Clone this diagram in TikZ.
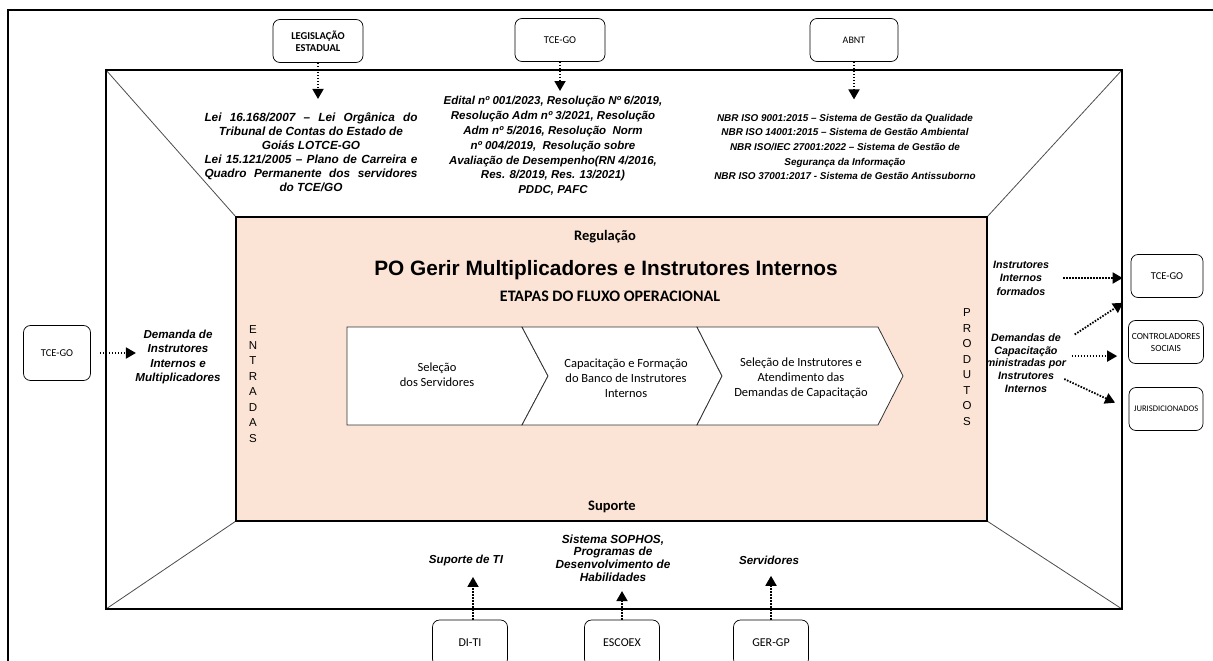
\documentclass[tikz,border=0pt]{standalone}
\usepackage{fontspec}
\setmainfont{Liberation Sans}
\newfontfamily\calfont{Carlito}
\usetikzlibrary{arrows.meta}
\definecolor{pinkbg}{RGB}{251,228,213}
\newcommand{\fullline}[1]{\makebox[213pt][s]{#1}}

\begin{document}
\begin{tikzpicture}[x=1pt,y=-1pt,
    orgbox/.style={draw, rounded corners=7pt, line width=0.7pt, minimum width=90pt, minimum height=43pt,
      align=center, font=\calfont\fontsize{10.5}{12}\selectfont},
    reftxt/.style={align=center, font=\bfseries\itshape\fontsize{11.6}{14}\selectfont},
    flow/.style={line width=1.8pt, dash pattern=on 1.6pt off 1.4pt, -{Triangle[length=10pt,width=11pt]}},
    stage/.style={align=center, font=\calfont\fontsize{12.5}{15}\selectfont},
    vert/.style={align=center, font=\fontsize{11.5}{15.5}\selectfont},
    band/.style={font=\calfont\bfseries\fontsize{14.5}{16}\selectfont}]
  \useasboundingbox (0,0) rectangle (1213,661);
  \draw[line width=2.5pt] (8,661) -- (8,10) -- (1213,10);
  \draw[line width=0.8pt, black!70] (106,70) -- (236,217);
  \draw[line width=0.8pt, black!70] (1122,70) -- (987,217);
  \draw[line width=0.8pt, black!70] (106,609) -- (236,521);
  \draw[line width=0.8pt, black!70] (1122,609) -- (987,521);
  \draw[line width=2.5pt] (106,70) rectangle (1122,609);
  \draw[line width=2pt, fill=pinkbg] (236,217) rectangle (987,521);

  \node[orgbox, font=\calfont\bfseries\fontsize{10.5}{12}\selectfont] (leg) at (318,41) {LEGISLAÇÃO\\ ESTADUAL};
  \node[orgbox] (tceT) at (560,40) {TCE-GO};
  \node[orgbox, minimum width=88pt, font=\calfont\fontsize{10}{12}\selectfont] (abnt) at (854,40) {ABNT};

  \node[reftxt, font=\bfseries\itshape\fontsize{11.8}{14}\selectfont] (legtxt) at (311,152) {\fullline{Lei 16.168/2007 -- Lei Orgânica do}\\
    Tribunal de Contas do Estado de\\ Goiás LOTCE-GO\\
    \fullline{Lei 15.121/2005 -- Plano de Carreira e}\\ \fullline{Quadro Permanente dos servidores}\\ do TCE/GO};
  \node[reftxt, font=\bfseries\itshape\fontsize{11.5}{14.8}\selectfont] (tcetxt) at (553,146) {Edital nº 001/2023, Resolução Nº 6/2019,\\
    Resolução Adm nº 3/2021, Resolução\\ Adm nº 5/2016, Resolução~ Norm\\ nº 004/2019,~ Resolução sobre\\
    Avaliação de Desempenho(RN 4/2016,\\ Res. 8/2019, Res. 13/2021)\\ PDDC, PAFC};
  \node[reftxt, font=\bfseries\itshape\fontsize{9.9}{14.7}\selectfont] (abnttxt) at (845,147) {NBR ISO 9001:2015 -- Sistema de Gestão da Qualidade\\
    NBR ISO 14001:2015 -- Sistema de Gestão Ambiental\\ NBR ISO/IEC 27001:2022 -- Sistema de Gestão de\\
    Segurança da Informação\\ NBR ISO 37001:2017 - Sistema de Gestão Antissuborno};
  \draw[flow, shorten >=10pt] (leg.south) -- (leg.south |- legtxt.north);
  \draw[flow, shorten >=2pt] (tceT.south) -- (tceT.south |- tcetxt.north);
  \draw[flow, shorten >=11pt] (abnt.south) -- (abnt.south |- abnttxt.north);

  \node[orgbox, minimum width=67pt, minimum height=55pt] (tceL) at (57,353) {TCE-GO};
  \node[reftxt, font=\bfseries\itshape\fontsize{11.6}{14.3}\selectfont] (demL) at (178,357) {Demanda de\\ Instrutores\\ Internos e\\ Multiplicadores};
  \draw[flow, shorten <=9pt, shorten >=-4pt] (tceL.east) -- (tceL.east -| demL.west);

  \node[vert] (ent) at (253,384) {E\\N\\T\\R\\A\\D\\A\\S};
  \node[vert] (prod) at (967,367) {P\\R\\O\\D\\U\\T\\O\\S};

  \node[orgbox, minimum width=72pt] (tceR) at (1167,276) {TCE-GO};
  \node[orgbox, minimum width=75pt, font=\calfont\fontsize{9.4}{12}\selectfont] (ctrl) at (1166,342) {CONTROLADORES\\ SOCIAIS};
  \node[orgbox, minimum width=74pt, font=\calfont\fontsize{8.6}{10}\selectfont] (jur) at (1166,409) {JURISDICIONADOS};
  \node[reftxt, font=\bfseries\itshape\fontsize{10.7}{13.5}\selectfont] (forma) at (1021,278) {Instrutores\\ Internos\\ formados};
  \node[reftxt, font=\bfseries\itshape\fontsize{10.7}{12.6}\selectfont] (demR) at (1026,363) {Demandas de\\ Capacitação\\ ministradas por\\ Instrutores\\ Internos};
  \draw[flow, shorten <=11pt, shorten >=8pt] (forma.east) -- (forma.east -| tceR.west);
  \draw[flow, shorten <=6pt, shorten >=9pt] (demR.30) -- (tceR.south west);
  \draw[flow, shorten <=2pt, shorten >=11pt] (demR.9) -- (demR.9 -| ctrl.west);
  \draw[flow, shorten <=-6pt, shorten >=15pt] (demR.-23) -- (jur.west);

  \node[band] (reg) at (605,237) {Regulação};
  \node[font=\bfseries\fontsize{20.8}{24}\selectfont] (title) at (606,270) {PO Gerir Multiplicadores e Instrutores Internos};
  \node[font=\calfont\bfseries\fontsize{16}{18}\selectfont] (etapas) at (610,296) {ETAPAS DO FLUXO OPERACIONAL};
  \node[band] (sup) at (612,507) {Suporte};

  \draw[line width=0.8pt, black!80, fill=white] (347,327) -- (522,327) -- (548,376) -- (522,425) -- (347,425) -- cycle;
  \draw[line width=0.8pt, black!80, fill=white] (522,327) -- (697,327) -- (722,376) -- (697,425) -- (522,425) -- (548,376) -- cycle;
  \draw[line width=0.8pt, black!80, fill=white] (697,327) -- (878,327) -- (903,376) -- (878,425) -- (697,425) -- (722,376) -- cycle;
  \node[stage] (s1) at (437,375) {Seleção\\ dos Servidores};
  \node[stage] (s2) at (626,378) {Capacitação e Formação\\ do Banco de Instrutores\\ Internos};
  \node[stage] (s3) at (801,378) {Seleção de Instrutores e\\ Atendimento das\\ Demandas de Capacitação};

  \node[reftxt] (sti) at (466,560) {Suporte de TI};
  \node[reftxt, font=\bfseries\itshape\fontsize{11.8}{12.8}\selectfont] (soph) at (613,558) {Sistema SOPHOS,\\ Programas de\\ Desenvolvimento de\\ Habilidades};
  \node[reftxt] (serv) at (769,560) {Servidores};
  \node[orgbox, minimum width=75pt, minimum height=46pt, font=\calfont\fontsize{12}{14}\selectfont] (diti) at (470,643) {DI-TI};
  \node[orgbox, minimum width=75pt, minimum height=46pt, font=\calfont\fontsize{12}{14}\selectfont] (esc) at (622,643) {ESCOEX};
  \node[orgbox, minimum width=75pt, minimum height=46pt, font=\calfont\fontsize{12}{14}\selectfont] (gergp) at (771,643) {GER-GP};
  \draw[flow, shorten >=8pt] ([xshift=3pt]diti.north) -- ([xshift=3pt]diti.north |- sti.south);
  \draw[flow, shorten >=6pt] (esc.north) -- (esc.north |- soph.south);
  \draw[flow, shorten >=8pt] (gergp.north) -- (gergp.north |- serv.south);
\end{tikzpicture}
\end{document}
